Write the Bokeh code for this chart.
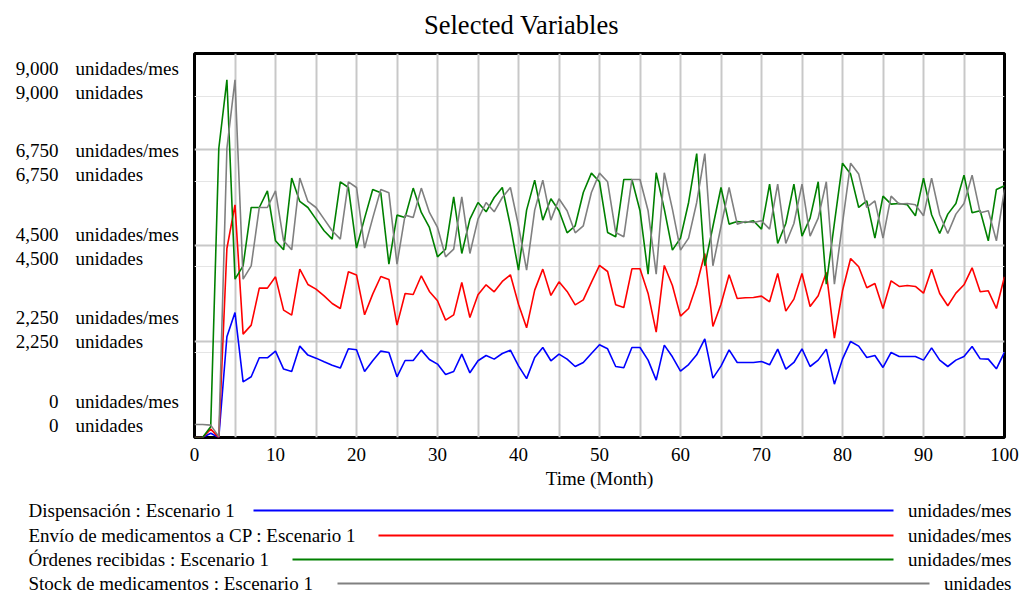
from bokeh.plotting import figure
from bokeh.models import Range1d, FixedTicker, Grid
from bokeh.layouts import column, row
from bokeh.core.properties import value
from bokeh.embed import file_html
from bokeh.resources import INLINE

# ---------------- data ----------------
months = list(range(0, 101))

dispensacion = [
    0, 0, 100, 0, 2360, 2930, 1305, 1423, 1868, 1868,
    2025, 1603, 1547, 2142, 1931, 1860, 1774, 1696, 1626, 2079,
    2055, 1547, 1798, 2025, 1993, 1423, 1805, 1805, 2048, 1829,
    1720, 1477, 1547, 1954, 1516, 1798, 1922, 1837, 1969, 2048,
    1680, 1380, 1875, 2109, 1798, 1954, 1837, 1664, 1758, 1969,
    2173, 2079, 1664, 1633, 2109, 2109, 1813, 1344, 2165, 1891,
    1555, 1710, 1938, 2313, 1392, 1672, 2055, 1758, 1758, 1758,
    1782, 1703, 2071, 1602, 1758, 2079, 1664, 1813, 2071, 1250,
    1837, 2251, 2142, 1875, 1922, 1641, 1993, 1899, 1899, 1899,
    1813, 2102, 1813, 1664, 1813, 1899, 2134, 1844, 1837, 1610,
    2001,
]

envio = [
    0, 0, 196, 0, 4430, 5454, 2423, 2634, 3501, 3501,
    3766, 2985, 2868, 3946, 3587, 3477, 3321, 3141, 3024, 3884,
    3810, 2875, 3360, 3774, 3704, 2634, 3376, 3352, 3790, 3423,
    3204, 2751, 2875, 3634, 2813, 3344, 3579, 3415, 3657, 3813,
    3125, 2570, 3454, 3946, 3329, 3649, 3423, 3110, 3227, 3634,
    4032, 3891, 3110, 3047, 3954, 3954, 3376, 2470, 4032, 3563,
    2845, 3024, 3579, 4313, 2602, 3125, 3813, 3258, 3274, 3282,
    3313, 3180, 3844, 2962, 3243, 3844, 3071, 3321, 3868, 2329,
    3438, 4196, 4001, 3508, 3610, 3024, 3673, 3540, 3563, 3540,
    3383, 3946, 3376, 3087, 3383, 3579, 3977, 3415, 3438, 3024,
    3766,
]

ordenes = [
    0, 0, 250, 6773, 8383, 3712, 4024, 5391, 5391, 5782,
    4610, 4399, 6080, 5532, 5391, 5118, 4845, 4649, 5993, 5860,
    4440, 5141, 5813, 5735, 4063, 5212, 5157, 5845, 5274, 4922,
    4235, 4415, 5641, 4313, 5118, 5508, 5290, 5625, 5860, 4962,
    3923, 5329, 6033, 5095, 5595, 5313, 4798, 4962, 5743, 6197,
    5993, 4805, 4704, 6048, 6048, 5313, 3829, 6205, 5352, 4391,
    4673, 5508, 6656, 4024, 4946, 5860, 5001, 5063, 5040, 5079,
    4884, 5938, 4548, 5016, 5938, 4720, 5141, 5993, 3594, 5024,
    6430, 6174, 5391, 5547, 4673, 5657, 5470, 5485, 5454, 5196,
    6080, 5220, 4782, 5235, 5485, 6150, 5266, 5313, 4610, 5813,
    5899,
]

stock = [
    305, 305, 290, 20, 6773, 8383, 3712, 4024, 5391, 5391,
    5782, 4610, 4399, 6080, 5532, 5391, 5118, 4845, 4649, 5993,
    5860, 4440, 5141, 5813, 5735, 4063, 5212, 5157, 5845, 5274,
    4922, 4235, 4415, 5641, 4313, 5118, 5508, 5290, 5625, 5860,
    4962, 3923, 5329, 6033, 5095, 5595, 5313, 4798, 4962, 5743,
    6197, 5993, 4805, 4704, 6048, 6048, 5313, 3829, 6205, 5352,
    4391, 4673, 5508, 6656, 4024, 4946, 5860, 5001, 5063, 5040,
    5079, 4884, 5938, 4548, 5016, 5938, 4720, 5141, 5993, 3594,
    5024, 6430, 6174, 5391, 5547, 4673, 5657, 5470, 5485, 5454,
    5196, 6080, 5220, 4782, 5235, 5485, 6150, 5266, 5313, 4610,
    5813,
]

x_ticks = [0, 10, 20, 30, 40, 50, 60, 70, 80, 90, 100]
y_tick_values = [0, 2250, 4500, 6750, 9000]
y_tick_labels = ["0", "2,250", "4,500", "6,750", "9,000"]
axis_units = ["unidades/mes", "unidades"]

series_names = [
    "Dispensación : Escenario 1",
    "Envío de medicamentos a CP : Escenario 1",
    "Órdenes recibidas : Escenario 1",
    "Stock de medicamentos : Escenario 1",
]
series_units = ["unidades/mes", "unidades/mes", "unidades/mes", "unidades"]
series_values = [dispensacion, envio, ordenes, stock]
colors = ["#0000ff", "#ff0000", "#008000", "#808080"]

title_text = "Selected Variables"
x_label = "Time (Month)"

# ---------------- style / layout ----------------
FONT = "Liberation Serif"
FS = "19px"
TOTAL_W = 1020
LEFT_W = 182
MID_H = 448
B_TOP, B_BOT = 2, 62          # borders of the chart row (frame = 384 px)


def blank(width, height, y_top, y_bottom, b_top=0, b_bot=0):
    """A figure whose data coordinates equal page pixels (for texts)."""
    f = figure(width=width, height=height,
               x_range=Range1d(0, width), y_range=Range1d(y_bottom, y_top),
               x_axis_location=None, y_axis_location=None,
               output_backend="svg", toolbar_location=None,
               min_border=0, min_border_top=b_top, min_border_bottom=b_bot)
    f.outline_line_color = None
    f.background_fill_color = "white"
    f.border_fill_color = "white"
    f.xgrid.visible = False
    f.ygrid.visible = False
    return f


# --- title strip ---
top = blank(TOTAL_W, 51, 0, 51)
top.text(x=[521], y=[24], text=[title_text], text_align="center",
         text_baseline="middle", text_font=value(FONT),
         text_font_size=value("26.5px"), text_color="black")

# --- main chart ---
p = figure(
    width=TOTAL_W - LEFT_W, height=MID_H,
    min_border_left=12, min_border_right=TOTAL_W - LEFT_W - 12 - 810,
    min_border_top=B_TOP, min_border_bottom=B_BOT,
    x_range=Range1d(0, 100), y_range=Range1d(0, 9000),
    y_axis_location=None,
    output_backend="svg", toolbar_location=None,
)
p.background_fill_color = "white"
p.border_fill_color = "white"
p.outline_line_color = "black"
p.outline_line_width = 3

xa = p.xaxis[0]
xa.ticker = FixedTicker(ticks=x_ticks)
xa.axis_line_color = None
xa.major_tick_line_color = None
xa.minor_tick_line_color = None
xa.major_tick_out = 0
xa.major_tick_in = 0
xa.major_label_standoff = 10
xa.major_label_text_font = FONT
xa.major_label_text_font_size = FS
xa.major_label_text_color = "black"
xa.axis_label = x_label
xa.axis_label_text_font = FONT
xa.axis_label_text_font_size = FS
xa.axis_label_text_font_style = "normal"
xa.axis_label_text_color = "black"
xa.axis_label_standoff = 4

for g in p.xgrid:
    g.visible = False
p.add_layout(Grid(dimension=0, ticker=FixedTicker(ticks=list(range(5, 100, 5))),
                  grid_line_color="#c8c8c8", grid_line_width=2))
p.add_layout(Grid(dimension=1, ticker=FixedTicker(ticks=y_tick_values[1:-1]),
                  grid_line_color="#c8c8c8", grid_line_width=2))

for vals, col in zip(series_values, colors):
    p.line(months, vals, line_color=col, line_width=1.6)

# --- left stacked Vensim-style scale labels (frame aligned with the chart) ---
left = blank(LEFT_W, MID_H, 51 + B_TOP, 51 + MID_H - B_BOT, B_TOP, B_BOT)
row_y = [401, 317, 234, 150, 68]
num_x, num_y, num_t, unit_x, unit_y, unit_t = [], [], [], [], [], []
for val_lbl, ry in zip(y_tick_labels, row_y):
    for k, unit in enumerate(axis_units):
        yy = ry + 24 * k
        num_x.append(58); num_y.append(yy); num_t.append(val_lbl)
        unit_x.append(75); unit_y.append(yy); unit_t.append(unit)
left.text(x=num_x, y=num_y, text=num_t, text_align="right", text_baseline="middle",
          text_font=value(FONT), text_font_size=value(FS), text_color="black")
left.text(x=unit_x, y=unit_y, text=unit_t, text_align="left", text_baseline="middle",
          text_font=value(FONT), text_font_size=value(FS), text_color="black")

# --- legend strip ---
leg = blank(TOTAL_W, 95, 499, 594)
leg_y = [510, 535, 559, 583]
line_start = [253, 378, 292, 337]
line_end = [893, 893, 893, 929]
leg.text(x=[28] * 4, y=leg_y, text=series_names, text_align="left",
         text_baseline="middle", text_font=value(FONT),
         text_font_size=value(FS), text_color="black")
leg.text(x=[1011] * 4, y=leg_y, text=series_units, text_align="right",
         text_baseline="middle", text_font=value(FONT),
         text_font_size=value(FS), text_color="black")
leg.segment(x0=line_start, y0=leg_y, x1=line_end, y1=leg_y,
            line_color=colors, line_width=2)

layout = column(top, row(left, p, spacing=0), leg, spacing=0)

open("out.html", "w").write(file_html(layout, INLINE))
